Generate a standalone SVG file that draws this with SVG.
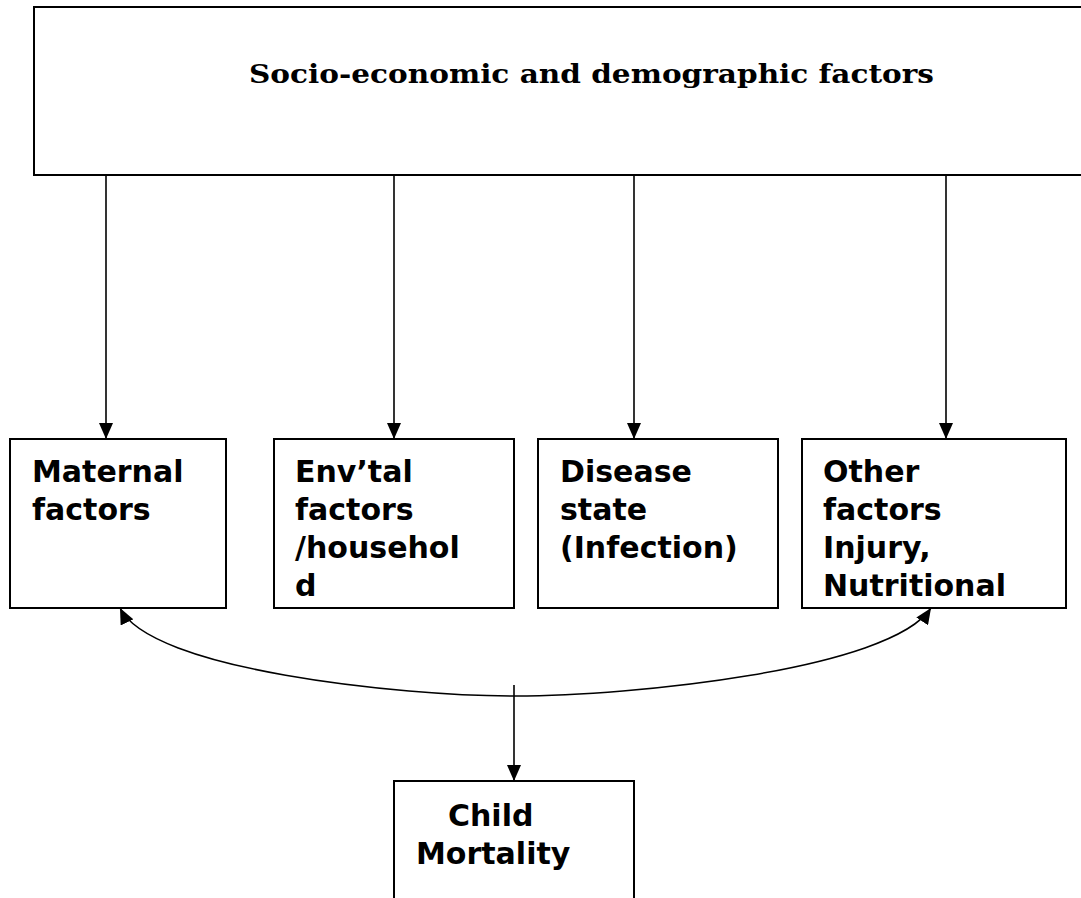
<svg xmlns="http://www.w3.org/2000/svg" width="1081" height="898" viewBox="0 0 1081 898">
<style>
.box{fill:#fff;stroke:#000;stroke-width:2}
.lbl{font-family:"DejaVu Sans","Liberation Sans",sans-serif;font-weight:bold;font-size:30px;fill:#000}
.ttl{font-family:"DejaVu Serif","Liberation Serif",serif;font-weight:bold;font-size:26px;fill:#000}
.ln{fill:none;stroke:#000;stroke-width:1.6}
</style>
<defs>
<marker id="ah" viewBox="0 0 16 14" refX="16" refY="7" markerWidth="16" markerHeight="14" markerUnits="userSpaceOnUse" orient="auto-start-reverse">
<path d="M0,0 L16,7 L0,14 z" fill="#000"/>
</marker>
</defs>
<g id="top">
<rect class="box" x="34" y="7" width="1060" height="168"/>
<text class="ttl" x="249" y="83" textLength="685" lengthAdjust="spacingAndGlyphs">Socio-economic and demographic factors</text>
</g>
<g id="maternal">
<rect class="box" x="10" y="439" width="216" height="169"/>
<text class="lbl" x="32" y="482">Maternal</text>
<text class="lbl" x="32" y="520">factors</text>
</g>
<g id="env">
<rect class="box" x="274" y="439" width="240" height="169"/>
<text class="lbl" x="295" y="482">Env’tal</text>
<text class="lbl" x="295" y="520">factors</text>
<text class="lbl" x="295" y="558">/househol</text>
<text class="lbl" x="295" y="596">d</text>
</g>
<g id="disease">
<rect class="box" x="538" y="439" width="240" height="169"/>
<text class="lbl" x="560" y="482">Disease</text>
<text class="lbl" x="560" y="520">state</text>
<text class="lbl" x="560" y="558">(Infection)</text>
</g>
<g id="other">
<rect class="box" x="802" y="439" width="264" height="169"/>
<text class="lbl" x="823" y="482">Other</text>
<text class="lbl" x="823" y="520">factors</text>
<text class="lbl" x="823" y="558">Injury,</text>
<text class="lbl" x="823" y="596">Nutritional</text>
</g>
<g id="child">
<rect class="box" x="394" y="781" width="240" height="130"/>
<text class="lbl" x="448" y="826">Child</text>
<text class="lbl" x="416" y="864">Mortality</text>
</g>
<g id="connectors">
<line class="ln" x1="106" y1="175" x2="106" y2="439" marker-end="url(#ah)"/>
<line class="ln" x1="394" y1="175" x2="394" y2="439" marker-end="url(#ah)"/>
<line class="ln" x1="634" y1="175" x2="634" y2="439" marker-end="url(#ah)"/>
<line class="ln" x1="946" y1="175" x2="946" y2="439" marker-end="url(#ah)"/>
<path class="ln" d="M120,608 C150,670 400,696 515,696 C630,696 890,670 931,608" marker-start="url(#ah)" marker-end="url(#ah)"/>
<line class="ln" x1="514" y1="685" x2="514" y2="781" marker-end="url(#ah)"/>
</g>
</svg>
